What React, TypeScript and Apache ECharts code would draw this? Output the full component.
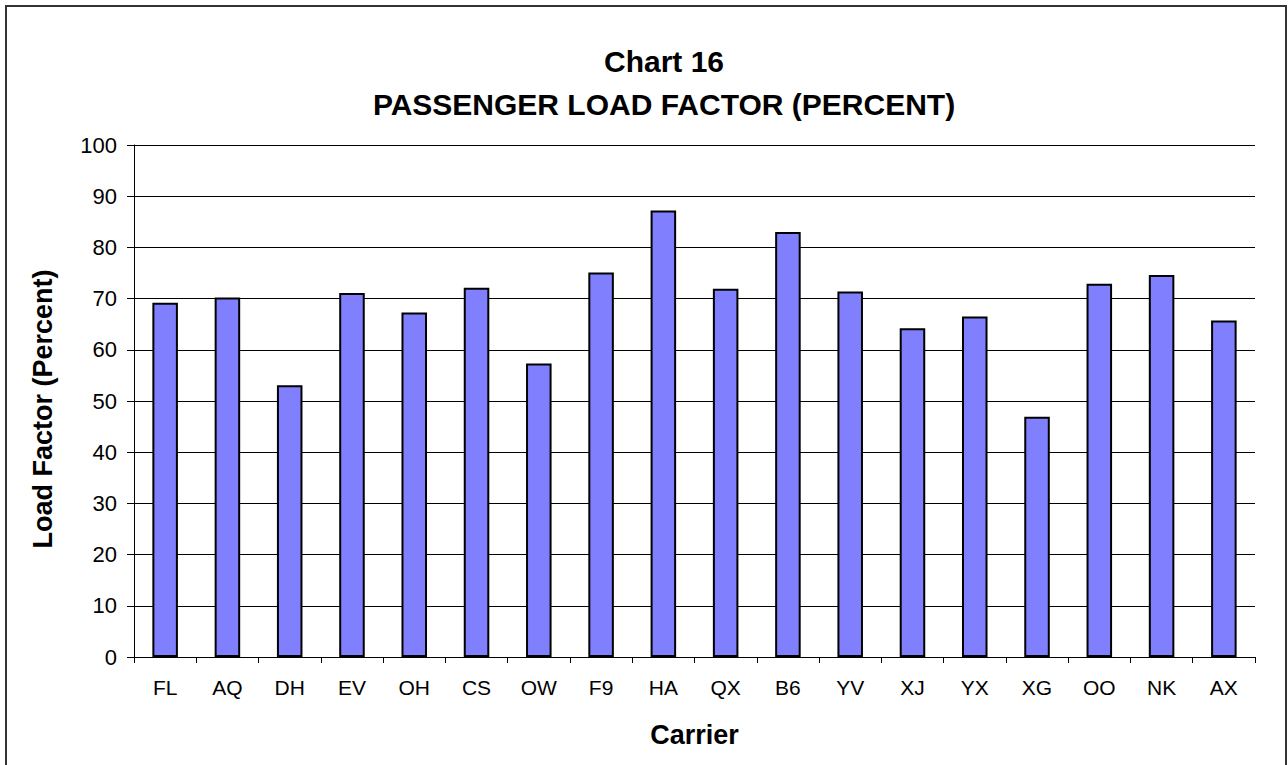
import React, { useEffect, useRef } from "react";
import * as echarts from "echarts";

const chartTitle = "Chart 16";
const chartSubtitle = "PASSENGER LOAD FACTOR (PERCENT)";
const xAxisTitle = "Carrier";
const yAxisTitle = "Load Factor (Percent)";
const categories = ["FL", "AQ", "DH", "EV", "OH", "CS", "OW", "F9", "HA", "QX", "B6", "YV", "XJ", "YX", "XG", "OO", "NK", "AX"];
const loadFactor = [69.2, 70.2, 53.1, 71.1, 67.3, 72.1, 57.3, 75.1, 87.2, 71.9, 83.0, 71.4, 64.2, 66.5, 46.9, 72.9, 74.6, 65.7];
const yMin = 0;
const yMax = 100;
const yStep = 10;

const FONT = "'Liberation Sans', Arial, Helvetica, sans-serif";

export default function App() {
  const ref = useRef<HTMLDivElement>(null);
  useEffect(() => {
    document.body.style.margin = "0";
    const chart = echarts.init(ref.current!, null, { renderer: "svg" });
    chart.setOption({
      animation: false,
      backgroundColor: "#ffffff",
      grid: { left: 134, right: 33, top: 145, bottom: 108, containLabel: false },
      graphic: [
        {
          type: "rect",
          shape: { x: 6, y: 6, width: 1280, height: 790 },
          style: { fill: "none", stroke: "#333333", lineWidth: 2 },
          silent: true,
        },
        {
          type: "text",
          x: 664,
          y: 61,
          style: {
            text: chartTitle,
            textAlign: "center",
            textVerticalAlign: "middle",
            fontSize: 30,
            fontWeight: "bold",
            fontFamily: FONT,
            fill: "#000",
          },
        },
        {
          type: "text",
          x: 664,
          y: 104,
          style: {
            text: chartSubtitle,
            textAlign: "center",
            textVerticalAlign: "middle",
            fontSize: 30,
            fontWeight: "bold",
            fontFamily: FONT,
            fill: "#000",
          },
        },
      ],
      xAxis: {
        type: "category",
        data: categories,
        name: xAxisTitle,
        nameLocation: "middle",
        nameGap: 64,
        nameTextStyle: { fontSize: 27, fontWeight: "bold", fontFamily: FONT, color: "#000" },
        axisLine: { lineStyle: { color: "#000", width: 1 } },
        axisTick: { show: true, length: 6, lineStyle: { color: "#000" } },
        axisLabel: { fontSize: 21, fontFamily: FONT, color: "#000", margin: 20, interval: 0 },
        splitLine: { show: false },
      },
      yAxis: {
        type: "value",
        min: yMin,
        max: yMax,
        interval: yStep,
        name: yAxisTitle,
        nameLocation: "middle",
        nameRotate: 90,
        nameGap: 78,
        nameTextStyle: { fontSize: 27, fontWeight: "bold", fontFamily: FONT, color: "#000", padding: [0, 16, 0, 0] },
        axisLine: { show: true, lineStyle: { color: "#000", width: 1 } },
        axisTick: { show: true, length: 7, lineStyle: { color: "#000" } },
        axisLabel: { fontSize: 22, fontFamily: FONT, color: "#000", margin: 17 },
        splitLine: { show: true, lineStyle: { color: "#000", width: 1 } },
      },
      series: [
        {
          type: "bar",
          data: loadFactor,
          barWidth: "41%",
          itemStyle: { color: "#8080FF", borderColor: "#000", borderWidth: 2 },
        },
      ],
    });
    return () => chart.dispose();
  }, []);
  return <div ref={ref} style={{ position: "fixed", left: 0, top: 0, width: 1288, height: 765 }} />;
}
